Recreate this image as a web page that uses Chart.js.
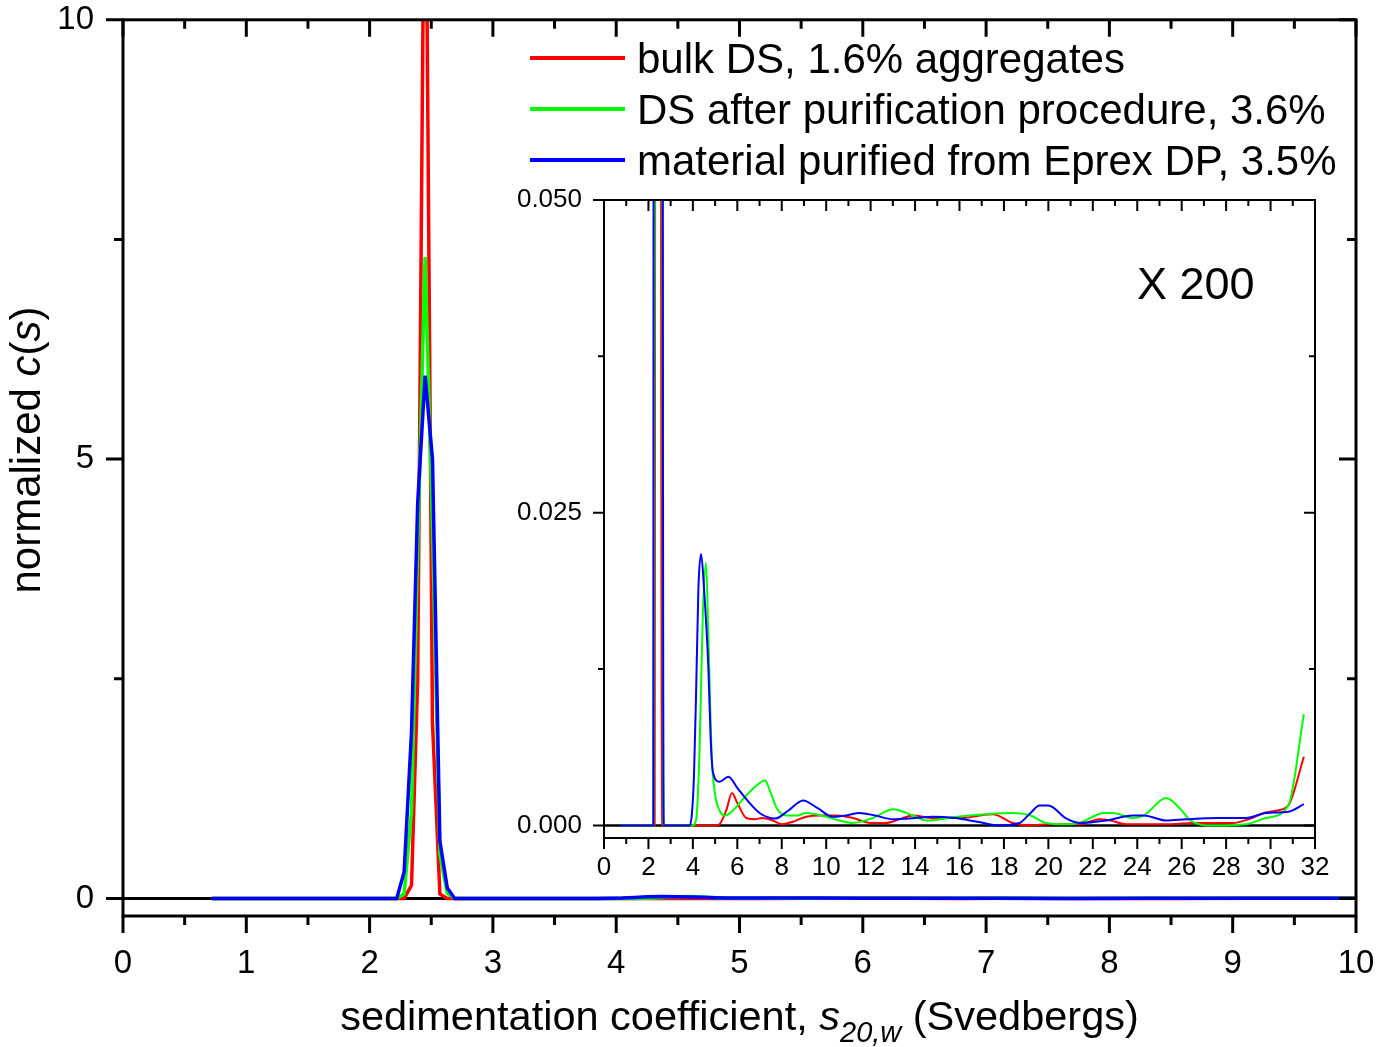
<!DOCTYPE html>
<html>
<head>
<meta charset="utf-8">
<script src="https://cdn.jsdelivr.net/npm/chart.js@4.4.1/dist/chart.umd.min.js"></script>
<style>
  body { margin: 0; background: #fff; }
  #wrap { position: relative; width: 1377px; height: 1047px; }
  canvas { position: absolute; left: 0; top: 0; }
</style>
</head>
<body>
<div id="wrap">
  <canvas id="mainChart" width="1377" height="1047"></canvas>
  <canvas id="insetChart" width="1377" height="1047"></canvas>
</div>
<script>
// sedimentation coefficient (S) and normalized c(s) for each sample
const bulkS = [0.72, 1.5, 2.22, 2.28, 2.34, 2.39, 2.45, 2.51, 2.57, 2.63, 3.0, 4.0, 5.0, 5.2, 5.5, 5.76, 6.0, 6.4, 6.8, 7.1,
  7.6, 8.0, 8.5, 9.1, 9.8, 10.5, 11.2, 12.0, 12.7, 13.3, 13.9, 14.8, 15.5, 16.2, 16.9, 17.5, 18.4, 19.2, 20.0, 21.4,
  22.3, 22.8, 23.5, 24.5, 25.5, 26.5, 27.4, 28.3, 29.0, 29.7, 30.3, 30.8, 31.5];
const bulkC = [0, 0, 0, 0, 0.15, 2.5, 13.0, 2.0, 0.05, 0, 0, 0, 0, 0.0001, 0.0012, 0.0026, 0.0018, 0.0006, 0.0005, 0.0006,
  0.0004, 0.0001, 0.0003, 0.0007, 0.0008, 0.0008, 0.0006, 0.0002, 0.0002, 0.0005, 0.0008, 0.0006, 0.0006, 0.0006, 0.0008, 0.0009, 0.0002, 0, 0.0001, 0.0001,
  0.0005, 0.0004, 0.0001, 0.0001, 0.0001, 0.0002, 0.0002, 0.0002, 0.0005, 0.001, 0.0012, 0.0016, 0.0055];

const purifiedS = [0.72, 1.5, 2.22, 2.28, 2.34, 2.39, 2.45, 2.51, 2.57, 2.63, 2.69, 3.0, 4.0, 4.15, 4.3, 4.45, 4.59, 4.7, 4.85, 5.0,
  5.2, 5.45, 5.8, 6.3, 6.8, 7.25, 7.5, 7.8, 8.2, 8.7, 9.1, 10.0, 10.6, 11.2, 12.1, 13.0, 13.9, 14.5, 15.9, 17.2,
  18.4, 19.2, 19.9, 20.8, 21.4, 22.5, 22.9, 23.8, 24.3, 25.3, 25.9, 26.4, 27.4, 28.9, 29.8, 30.8, 31.5];
const purifiedC = [0, 0, 0, 0.05, 1.0, 4.0, 7.3, 4.2, 0.5, 0.06, 0, 0, 0, 0.0005, 0.006, 0.017, 0.021, 0.015, 0.0055, 0.0025,
  0.0012, 0.0008, 0.0012, 0.0022, 0.0031, 0.0036, 0.0026, 0.0013, 0.0008, 0.0008, 0.001, 0.0007, 0.0004, 0.0002, 0.0006, 0.0013, 0.0008, 0.0004, 0.0007, 0.0009,
  0.001, 0.0008, 0.0002, 0.0001, 0.0002, 0.001, 0.001, 0.0006, 0.0008, 0.0022, 0.0014, 0.0004, 0, 0.0001, 0.0006, 0.0016, 0.0089];

const eprexS = [0.72, 1.5, 2.22, 2.28, 2.34, 2.39, 2.45, 2.51, 2.57, 2.63, 2.69, 3.0, 3.85, 3.95, 4.05, 4.15, 4.25, 4.37, 4.5, 4.7,
  4.8, 4.9, 5.2, 5.6, 6.0, 6.5, 7.0, 7.7, 8.3, 8.96, 9.6, 10.3, 10.9, 11.5, 12.2, 13.0, 14.0, 14.8, 15.8, 16.8,
  17.8, 18.7, 19.2, 19.6, 20.0, 20.8, 21.4, 22.6, 23.8, 24.3, 25.3, 26.2, 27.6, 28.9, 29.8, 30.8, 31.5];
const eprexC = [0, 0, 0, 0.3, 1.9, 4.5, 5.95, 5.0, 0.65, 0.12, 0, 0, 0, 0.0008, 0.004, 0.011, 0.019, 0.0217, 0.019, 0.0125,
  0.007, 0.0043, 0.0035, 0.0039, 0.003, 0.0019, 0.001, 0.00055, 0.0012, 0.002, 0.0014, 0.0007, 0.0008, 0.001, 0.0008, 0.0005, 0.0006, 0.0007, 0.0006, 0.0003,
  0, 0.0002, 0.001, 0.0016, 0.0016, 0.00056, 0.0002, 0.0004, 0.0008, 0.0008, 0.0004, 0.0005, 0.0006, 0.0006, 0.001, 0.0011, 0.0017];

const seriesLabels = ["bulk DS, 1.6% aggregates", "DS after purification procedure, 3.6%", "material purified from Eprex DP, 3.5%"];
const seriesColors = ["#ff0000", "#00ff00", "#0000ff"];

// labelled ticks
const mainXTicks = [0, 1, 2, 3, 4, 5, 6, 7, 8, 9, 10];
const mainYTicks = [0, 5, 10];
const insetXTicks = [0, 2, 4, 6, 8, 10, 12, 14, 16, 18, 20, 22, 24, 26, 28, 30, 32];
const insetYTicks = [0, 0.025, 0.05];

const FONT = "Arial, 'Liberation Sans', sans-serif";

function toPoints(xs, ys) {
  return xs.map((x, i) => ({ x: x, y: ys[i] }));
}

function makeDatasets(width, smooth) {
  const all = [[bulkS, bulkC], [purifiedS, purifiedC], [eprexS, eprexC]];
  return all.map((pair, i) => ({
    label: seriesLabels[i],
    data: toPoints(pair[0], pair[1]),
    borderColor: seriesColors[i],
    borderWidth: width,
    pointRadius: 0,
    fill: false,
    tension: 0,
    cubicInterpolationMode: smooth ? "monotone" : "default",
    order: 3 - i,
  }));
}

function tickValues(min, max, step) {
  let out = [];
  let v = Math.ceil(min / step - 1e-9) * step;
  for (; v <= max + 1e-9; v += step) out.push(v);
  return out;
}
function onStep(v, step) {
  return Math.abs(v / step - Math.round(v / step)) < 1e-6;
}
function fixedTicks(list) {
  return (s) => { s.ticks = list.map((v) => ({ value: v })); };
}
// invisible tick marks, only used to push the labels away from the axis
function gap(len) {
  return { display: true, drawOnChartArea: false, drawTicks: true, tickLength: len, tickColor: "rgba(0,0,0,0)" };
}

// frame with mirrored ticks (out on bottom/left, in on top/right), plus zero line
const framePlugin = {
  id: "frame",
  beforeDatasetsDraw(chart, args, o) {
    const { ctx, chartArea: a } = chart;
    const y0 = chart.scales.y.getPixelForValue(0);
    ctx.save();
    ctx.strokeStyle = "#000";
    ctx.lineWidth = o.zeroWidth;
    ctx.beginPath();
    ctx.moveTo(a.left, y0);
    ctx.lineTo(a.right, y0);
    ctx.stroke();
    ctx.restore();
  },
  afterDatasetsDraw(chart, args, o) {
    const { ctx, chartArea: a } = chart;
    const x = chart.scales.x, y = chart.scales.y;
    ctx.save();
    ctx.strokeStyle = "#000";
    ctx.lineWidth = o.width;
    ctx.strokeRect(a.left, a.top, a.right - a.left, a.bottom - a.top);
    ctx.beginPath();
    tickValues(x.min, x.max, o.xMinor).forEach((v) => {
      const px = x.getPixelForValue(v);
      const len = onStep(v, o.xMajor) ? o.major : o.minor;
      ctx.moveTo(px, a.bottom);
      ctx.lineTo(px, a.bottom + len);
      ctx.moveTo(px, a.top);
      ctx.lineTo(px, a.top + len);
    });
    tickValues(y.min, y.max, o.yMinor).forEach((v) => {
      const py = y.getPixelForValue(v);
      const len = onStep(v, o.yMajor) ? o.major : o.minor;
      ctx.moveTo(a.left, py);
      ctx.lineTo(a.left - len, py);
      ctx.moveTo(a.right, py);
      ctx.lineTo(a.right - len, py);
    });
    ctx.stroke();
    ctx.restore();
  },
};

function drawParts(ctx, parts, cx, baseY) {
  let total = 0;
  parts.forEach((p) => {
    ctx.font = p.font;
    p.w = ctx.measureText(p.text).width;
    total += p.w;
  });
  let x = cx - total / 2;
  parts.forEach((p) => {
    ctx.font = p.font;
    ctx.fillText(p.text, x, baseY + (p.dy || 0));
    x += p.w;
  });
}

const textPlugin = {
  id: "texts",
  afterDraw(chart) {
    const ctx = chart.ctx;
    const a = chart.chartArea;
    ctx.save();
    ctx.fillStyle = "#000";
    ctx.textBaseline = "alphabetic";
    ctx.textAlign = "left";

    // x title
    drawParts(ctx, [
      { text: "sedimentation coefficient, ", font: "41.5px " + FONT },
      { text: "s", font: "italic 41.5px " + FONT },
      { text: "20,w", font: "italic 29px " + FONT, dy: 12 },
      { text: " (Svedbergs)", font: "41.5px " + FONT },
    ], (a.left + a.right) / 2, 1030);

    // y title
    ctx.save();
    ctx.translate(40, 450);
    ctx.rotate(-Math.PI / 2);
    drawParts(ctx, [
      { text: "normalized ", font: "42px " + FONT },
      { text: "c", font: "italic 42px " + FONT },
      { text: "(", font: "42px " + FONT },
      { text: "s", font: "italic 42px " + FONT },
      { text: ")", font: "42px " + FONT },
    ], 0, 0);
    ctx.restore();

    // legend
    ctx.font = "42px " + FONT;
    seriesLabels.forEach((lab, i) => {
      const ly = 58 + i * 51;
      ctx.strokeStyle = seriesColors[i];
      ctx.lineWidth = 4;
      ctx.beginPath();
      ctx.moveTo(530, ly);
      ctx.lineTo(625, ly);
      ctx.stroke();
      ctx.fillText(lab, 637, ly + 15);
    });
    ctx.restore();
  },
};

const insetNote = {
  id: "note",
  afterDraw(chart) {
    const ctx = chart.ctx;
    ctx.save();
    ctx.fillStyle = "#000";
    ctx.font = "45px " + FONT;
    ctx.textBaseline = "alphabetic";
    ctx.fillText("X 200", 1137, 299);
    ctx.restore();
  },
};

new Chart(document.getElementById("mainChart"), {
  type: "line",
  data: { datasets: makeDatasets(3.5, false) },
  options: {
    responsive: false,
    animation: false,
    devicePixelRatio: 1,
    layout: { padding: { left: 0, top: 17, right: 21, bottom: 0 } },
    plugins: {
      legend: { display: false },
      tooltip: { enabled: false },
      frame: { width: 3, zeroWidth: 3, major: 17, minor: 9, xMajor: 1, xMinor: 0.5, yMajor: 5, yMinor: 2.5 },
    },
    scales: {
      x: {
        type: "linear",
        min: 0,
        max: 10,
        grid: gap(28),
        border: { display: false },
        afterBuildTicks: fixedTicks(mainXTicks),
        ticks: { autoSkip: false, maxRotation: 0, padding: 0, color: "#000", font: { family: FONT, size: 33 } },
        afterFit: (s) => { s.height = 131; },
      },
      y: {
        min: -0.2,
        max: 10,
        grid: gap(29),
        border: { display: false },
        afterBuildTicks: fixedTicks(mainYTicks),
        ticks: { autoSkip: false, padding: 0, color: "#000", font: { family: FONT, size: 33 } },
        afterFit: (s) => { s.width = 123; },
      },
    },
  },
  plugins: [framePlugin, textPlugin],
});

new Chart(document.getElementById("insetChart"), {
  type: "line",
  data: { datasets: makeDatasets(2, true) },
  options: {
    responsive: false,
    animation: false,
    devicePixelRatio: 1,
    layout: { padding: { left: 500, top: 200, right: 62, bottom: 149 } },
    plugins: {
      legend: { display: false },
      tooltip: { enabled: false },
      frame: { width: 2, zeroWidth: 2.5, major: 11, minor: 6, xMajor: 2, xMinor: 1, yMajor: 0.025, yMinor: 0.0125 },
    },
    scales: {
      x: {
        type: "linear",
        min: 0,
        max: 32,
        grid: gap(14),
        border: { display: false },
        afterBuildTicks: fixedTicks(insetXTicks),
        ticks: { autoSkip: false, maxRotation: 0, padding: 0, color: "#000", font: { family: FONT, size: 26 } },
        afterFit: (s) => { s.height = 60; },
      },
      y: {
        min: -0.001,
        max: 0.05,
        grid: gap(22),
        border: { display: false },
        afterBuildTicks: fixedTicks(insetYTicks),
        ticks: {
          autoSkip: false, padding: 0, color: "#000", font: { family: FONT, size: 26 },
          callback: (v) => Number(v).toFixed(3),
        },
        afterFit: (s) => { s.width = 104; },
      },
    },
  },
  plugins: [framePlugin, insetNote],
});
</script>
</body>
</html>
